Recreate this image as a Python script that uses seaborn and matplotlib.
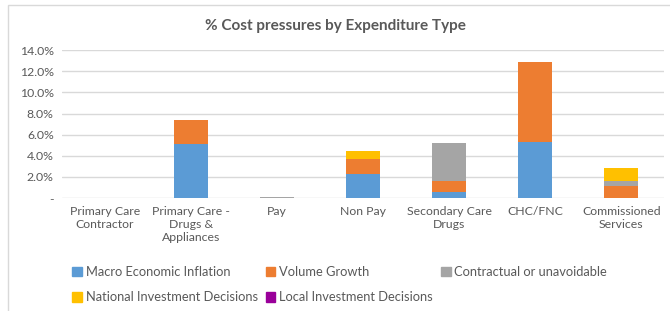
"""
Stacked bar chart: % cost pressures by expenditure type.
"""
import matplotlib
matplotlib.use("Agg")
import matplotlib.pyplot as plt
import matplotlib.patches as mpatches
from matplotlib.ticker import FuncFormatter
import numpy as np
import pandas as pd
import seaborn as sns

categories = [
    "Primary Care\nContractor",
    "Primary Care -\nDrugs &\nAppliances",
    "Pay",
    "Non Pay",
    "Secondary Care\nDrugs",
    "CHC/FNC",
    "Commissioned\nServices",
]

# values in % of budget
macro_inflation = [0.0, 5.1, 0.0, 2.3, 0.55, 5.3, 0.05]
volume_growth = [0.0, 2.3, 0.0, 1.4, 1.05, 7.6, 1.1]
contractual = [0.0, 0.0, 0.15, 0.0, 3.65, 0.0, 0.45]
national_invest = [0.0, 0.0, 0.0, 0.75, 0.0, 0.0, 1.25]
local_invest = [0.0, 0.0, 0.0, 0.0, 0.0, 0.0, 0.0]

series_names = [
    "Macro Economic Inflation",
    "Volume Growth",
    "Contractual or unavoidable",
    "National Investment Decisions",
    "Local Investment Decisions",
]
series_values = [macro_inflation, volume_growth, contractual, national_invest, local_invest]
colors = ["#5B9BD5", "#ED7D31", "#A5A5A5", "#FFC000", "#9A009A"]

TEXT = "#595959"

sns.set_style("white")
plt.rcParams["font.family"] = ["Lato", "DejaVu Sans"]

fig = plt.figure(figsize=(6.7, 3.11), dpi=100)
ax = fig.add_axes([0.0925, 0.363, 0.899, 0.476])

bottom = np.zeros(len(categories))
for name, vals, col in zip(series_names, series_values, colors):
    frac = np.array(vals) / 100.0
    df = pd.DataFrame({"cat": categories, "val": frac})
    sns.barplot(data=df, x="cat", y="val", color=col, width=0.4,
                bottom=bottom, ax=ax, saturation=1, linewidth=0)
    bottom = bottom + frac

ax.set_ylim(0, 0.14)
ax.set_xlim(-0.5, len(categories) - 0.5)
ax.set_yticks(np.arange(0, 0.141, 0.02))
ax.yaxis.set_major_formatter(
    FuncFormatter(lambda v, _: "-" if abs(v) < 1e-9 else f"{v * 100:.1f}%"))
ax.grid(axis="y", color="#D9D9D9", linewidth=1)
ax.set_axisbelow(True)
for s in ax.spines.values():
    s.set_visible(False)
ax.tick_params(axis="both", length=0, labelsize=8.8, colors=TEXT, pad=6)
ax.set_xlabel("")
ax.set_ylabel("")

fig.text(0.5, 0.915, "% Cost pressures by Expenditure Type", ha="center",
         va="center", fontsize=11, fontweight="bold", color=TEXT)

# legend fills column-wise, reorder so entries read row by row
handles = [mpatches.Patch(color=c, label=n) for n, c in zip(series_names, colors)]
order = [0, 3, 1, 4, 2]
leg = fig.legend(handles=[handles[i] for i in order], loc="upper left",
                 bbox_to_anchor=(0.108, 0.145), ncol=3, frameon=False,
                 fontsize=9.3, handlelength=0.75, handleheight=0.75,
                 handletextpad=0.3, columnspacing=0.6, labelspacing=1.05,
                 borderaxespad=0, borderpad=0)
for t in leg.get_texts():
    t.set_color(TEXT)

# chart border
fig.patches.append(mpatches.Rectangle((8 / 670, -0.1), 1.2, (311 - 5) / 311 + 0.1,
                                      transform=fig.transFigure, fill=False,
                                      edgecolor="#D9D9D9", linewidth=1))

fig.savefig("out.png", dpi=100)
